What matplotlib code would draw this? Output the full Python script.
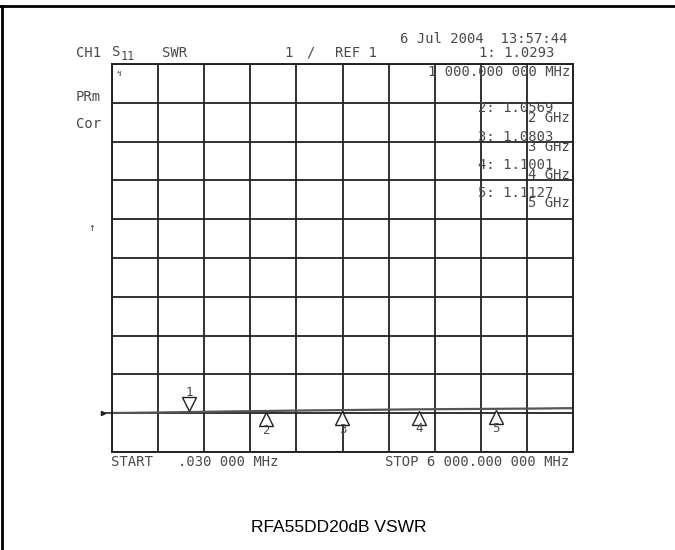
import matplotlib
matplotlib.use("Agg")
import matplotlib.pyplot as plt
from matplotlib.lines import Line2D
from matplotlib.transforms import offset_copy

# trace (MHz, SWR)
freq_mhz = [0.03, 500, 1000, 1500, 2000, 2500, 3000, 3500, 4000, 4500, 5000, 5500, 6000]
swr = [1.005, 1.015, 1.0293, 1.045, 1.0569, 1.070, 1.0803, 1.090, 1.1001, 1.107, 1.1127, 1.120, 1.130]

# markers
marker_no = [1, 2, 3, 4, 5]
marker_f = [1000, 2000, 3000, 4000, 5000]
marker_v = [1.0293, 1.0569, 1.0803, 1.1001, 1.1127]

W, H = 675, 550
ink = "#222222"
txt = "#4a4a4a"
mono = "DejaVu Sans Mono"


def fx(x):
    return x / W


def fy(y):
    return 1 - y / H


fig = plt.figure(figsize=(W / 100, H / 100), dpi=100)
fig.patch.set_facecolor("white")

# outer frame (top and left visible)
fig.add_artist(Line2D([0, 1], [fy(6), fy(6)], color="black", lw=2))
fig.add_artist(Line2D([fx(2), fx(2)], [0, fy(6)], color="black", lw=2))

# graticule: 10 x 10 divisions, 1 SWR/div, ref 1 one div above bottom
x0, x1, y0, y1 = 112, 573, 64, 452
ax = fig.add_axes([fx(x0), fy(y1), fx(x1 - x0), (y1 - y0) / H])
ax.set_xlim(0.03, 6000)
ax.set_ylim(0, 10)
for i in range(11):
    ax.axvline(0.03 + i * (6000 - 0.03) / 10, color=ink, lw=1.3)
    ax.axhline(i, color=ink, lw=1.3)
for s in ax.spines.values():
    s.set_color(ink)
    s.set_linewidth(1.4)
ax.set_xticks([])
ax.set_yticks([])

# reference position marker on the left
ax.plot([-0.02, 0], [1, 1], color=ink, lw=1.2, transform=ax.get_yaxis_transform(), clip_on=False)
ax.plot([-0.02], [1], marker=">", ms=3, color=ink, transform=ax.get_yaxis_transform(), clip_on=False)

# trace
ax.plot(freq_mhz, swr, color="#555555", lw=1.6)

# markers
for n, f, v in zip(marker_no, marker_f, marker_v):
    up = 1 if n == 1 else -1
    tr = offset_copy(ax.transData, fig=fig, x=0, y=6 * up, units="points")
    ax.plot([f], [v], marker="v" if n == 1 else "^", ms=9.5, mfc="white", mec=ink,
            mew=1, transform=tr, clip_on=False)
    ax.text(f, v, str(n), transform=offset_copy(ax.transData, fig=fig, x=0, y=14 * up, units="points"),
            ha="center", va="center", fontsize=9, family=mono, color=txt)

# annotation text
fs = 10


def t(x, y, s, ha="left", size=fs):
    fig.text(fx(x), fy(y), s, ha=ha, va="center", fontsize=size, family=mono, color=txt)


t(76, 53, "CH1")
t(112, 52, "S")
t(121, 56, "11", size=8.5)
t(162, 53, "SWR")
t(284, 53, "1")
t(306, 53, "/")
t(335, 53, "REF 1")
t(400, 39, "6 Jul 2004  13:57:44")
t(479, 53, f"{marker_no[0]}: {marker_v[0]:.4f}")
t(570, 72, "1 000.000 000 MHz", ha="right")
for k, yy in zip(range(1, 5), [108, 137, 165, 193]):
    t(478, yy, f"{marker_no[k]}: {marker_v[k]:.4f}")
    t(570, yy + 10, f"{marker_f[k] // 1000} GHz", ha="right")
t(76, 97, "PRm")
t(76, 124, "Cor")
t(88, 228, "↑", size=8)
t(117, 73, "↯", size=6)
t(111, 462, "START   .030 000 MHz")
t(569, 462, "STOP 6 000.000 000 MHz", ha="right")

fig.text(fx(339), fy(528), "RFA55DD20dB VSWR", ha="center", va="center",
         fontsize=12.5, family="Liberation Sans", color="black")

fig.savefig("out.png", dpi=100)
